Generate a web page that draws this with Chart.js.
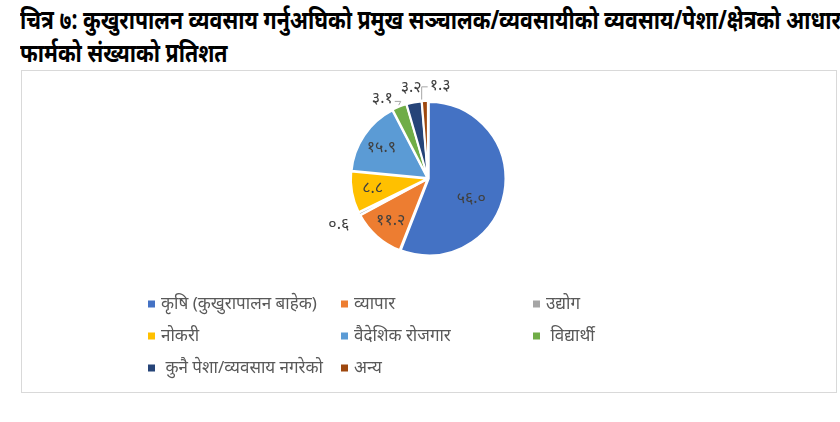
<!DOCTYPE html>
<html>
<head>
<meta charset="utf-8">
<script src="https://cdn.jsdelivr.net/npm/chart.js@4"></script>
<style>
  html, body { margin: 0; padding: 0; background: #fff; }
  body { width: 840px; height: 422px; position: relative; overflow: hidden; }
  #title { position: absolute; left: 20px; top: 3px; width: 1100px; font-family: "Noto Sans", sans-serif; font-weight: bold; font-size: 26px; line-height: 33px; color: #000; white-space: nowrap; transform: scaleX(0.82); transform-origin: 0 0; }
  #box { position: absolute; left: 21px; top: 70px; width: 814px; height: 321px; border: 1px solid #d9d9d9; }
  #c { position: absolute; left: 0; top: 0; }
</style>
</head>
<body>
<div id="title">चित्र ७: कुखुरापालन व्यवसाय गर्नुअघिको प्रमुख सञ्चालक/व्यवसायीको व्यवसाय/पेशा/क्षेत्रको आधारमा<br>फार्मको संख्याको प्रतिशत</div>
<div id="box"></div>
<canvas id="c" width="840" height="422"></canvas>
<script>
const categories = ["कृषि (कुखुरापालन बाहेक)", "व्यापार", "उद्योग", "नोकरी", "वैदेशिक रोजगार", " विद्यार्थी", " कुनै पेशा/व्यवसाय नगरेको", "अन्य"];
const shares = [56.0, 11.2, 0.6, 8.8, 15.9, 3.1, 3.2, 1.3];
const colors = ["#4472C4", "#ED7D31", "#A5A5A5", "#FFC000", "#5B9BD5", "#70AD47", "#264478", "#9E480E"];

const devDigits = "०१२३४५६७८९";
function toDev(v) { return v.toFixed(1).replace(/[0-9]/g, d => devDigits[+d]); }

const FONT = '"Noto Sans", "DejaVu Sans", sans-serif';

const labelPlugin = {
  id: 'pieLabels',
  afterDatasetsDraw(chart) {
    const ctx = chart.ctx;
    const meta = chart.getDatasetMeta(0);
    ctx.save();
    ctx.font = '16px ' + FONT;
    ctx.fillStyle = '#404040';
    ctx.textBaseline = 'middle';
    const outside = [];
    meta.data.forEach((arc, i) => {
      const p = arc.getProps(['x', 'y', 'startAngle', 'endAngle', 'outerRadius'], true);
      const mid = (p.startAngle + p.endAngle) / 2;
      const r = p.outerRadius;
      const txt = toDev(shares[i]);
      const w = ctx.measureText(txt).width;
      const cosA = Math.cos(mid), sinA = Math.sin(mid);
      if (shares[i] > 5) {
        const big = shares[i] > 50;
        const f = big ? 0.58 : 0.74;
        ctx.textAlign = 'center';
        ctx.fillText(txt, p.x + cosA * r * f, p.y + sinA * r * f + (big ? 12 : 0));
      } else {
        const d = r * (sinA > 0 ? 1.32 : 1.22);
        outside.push({ i, txt, w, cx: p.x + cosA * d, nx: p.x + cosA * d, y: p.y + sinA * d,
                       ex: p.x + cosA * (r + 3), ey: p.y + sinA * (r + 3) });
      }
    });
    // resolve overlaps in top cluster: keep the largest share fixed, push neighbours outward
    const top = outside.filter(o => o.y < meta.data[0].y);
    if (top.length > 1) {
      top.sort((a, b) => a.nx - b.nx);
      let fixedIdx = 0;
      top.forEach((o, k) => { if (shares[o.i] > shares[top[fixedIdx].i]) fixedIdx = k; });
      for (let k = fixedIdx + 1; k < top.length; k++) {
        const prev = top[k - 1];
        const minC = prev.cx + prev.w / 2 + 8 + top[k].w / 2;
        if (top[k].cx < minC) top[k].cx = minC;
      }
      for (let k = fixedIdx - 1; k >= 0; k--) {
        const nxt = top[k + 1];
        const maxC = nxt.cx - nxt.w / 2 - 8 - top[k].w / 2;
        if (top[k].cx > maxC) { top[k].cx = maxC; top[k].y += 6; }
      }
    }
    ctx.textAlign = 'center';
    ctx.strokeStyle = '#a6a6a6';
    ctx.lineWidth = 1;
    outside.forEach(o => {
      ctx.fillStyle = '#404040';
      ctx.fillText(o.txt, o.cx, o.y);
      if (Math.abs(o.cx - o.nx) > 2) {
        ctx.beginPath();
        if (o.cx > o.nx) {
          const sx = o.cx - o.w / 2 - 3;
          ctx.moveTo(sx + 1, o.y + 1);
          ctx.lineTo(sx - 5, o.y + 1);
          ctx.lineTo(sx - 5, o.ey);
        } else {
          const sx = o.cx + o.w / 2 + 3;
          ctx.moveTo(sx - 1, o.y + 3);
          ctx.lineTo(sx + 5, o.y + 3);
          ctx.lineTo(o.ex, o.ey);
        }
        ctx.stroke();
      }
    });
    ctx.restore();
  }
};

const legendPlugin = {
  id: 'gridLegend',
  afterDraw(chart) {
    const ctx = chart.ctx;
    const colX = [148, 341, 533];
    const rowY0 = 304, rowH = 32;
    ctx.save();
    ctx.font = '17px ' + FONT;
    ctx.textBaseline = 'middle';
    ctx.textAlign = 'left';
    categories.forEach((name, i) => {
      const x = colX[i % 3], y = rowY0 + Math.floor(i / 3) * rowH;
      ctx.fillStyle = colors[i];
      ctx.fillRect(x, y - 3.5, 7, 7);
      ctx.fillStyle = '#595959';
      ctx.fillText(name, x + 13, y);
    });
    ctx.restore();
  }
};

new Chart(document.getElementById('c'), {
  type: 'pie',
  data: {
    labels: categories,
    datasets: [{
      data: shares,
      backgroundColor: colors,
      borderColor: '#ffffff',
      borderWidth: 2,
      offset: 3
    }]
  },
  options: {
    responsive: false,
    animation: false,
    events: [],
    layout: { padding: { left: 349, right: 333, top: 100, bottom: 165 } },
    plugins: {
      legend: { display: false },
      tooltip: { enabled: false }
    }
  },
  plugins: [labelPlugin, legendPlugin]
});
</script>
</body>
</html>
